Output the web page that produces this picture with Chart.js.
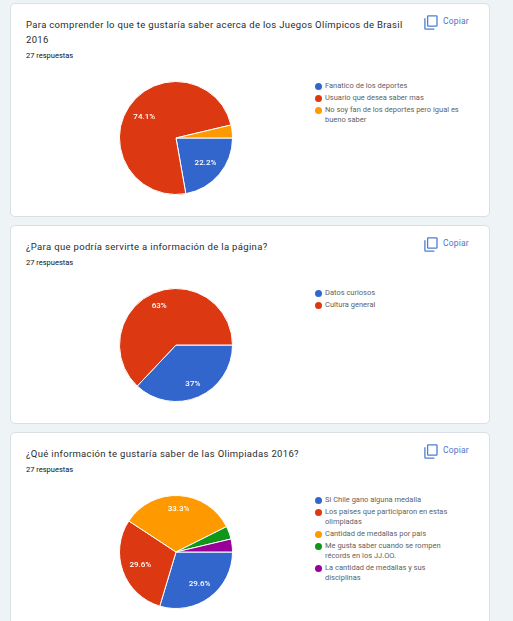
<!DOCTYPE html>
<html lang="es">
<head>
<meta charset="utf-8">
<title>Respuestas</title>
<script src="https://cdn.jsdelivr.net/npm/chart.js@4"></script>
<style>
    html, body { margin: 0; padding: 0; width: 513px; height: 621px; overflow: hidden; background: #eef4f6; font-family: Roboto, sans-serif; }
    .card { position: absolute; left: 10px; width: 478px; background: #fff; border: 1px solid #dadfe3; border-radius: 5px; }
    .title { position: absolute; left: 15px; top: 13px; width: 385px; font-size: 9.5px; line-height: 15px; letter-spacing: 0.33px; color: #2b2b2b; }
    .count { position: absolute; left: 15px; font-size: 7.5px; line-height: 10px; color: #111; }
    .copy { position: absolute; left: 432px; top: 12px; font-size: 8.5px; line-height: 10px; letter-spacing: 0.2px; color: #4f74c9; }
    .copy-icon { position: absolute; left: 413px; top: 11px; }
    .legend { position: absolute; left: 303px; width: 148px; font-size: 7.5px; line-height: 10px; color: #5f5f5f; }
    .legend div { position: relative; padding-left: 11px; margin-bottom: 2px; }
    .legend i { position: absolute; left: 1px; top: 1.5px; width: 7px; height: 7px; border-radius: 50%; }
    canvas { position: absolute; left: 118px; }
</style>
</head>
<body>
<script>
const COLORS = ['#3366cc', '#dc3912', '#ff9900', '#109618', '#990099'];

const titles = [
    'Para comprender lo que te gustaría saber acerca de los Juegos Olímpicos de Brasil 2016',
    '¿Para que podría servirte a información de la página?',
    '¿Qué información te gustaría saber de las Olimpiadas 2016?'
];
const countLabel = '27 respuestas';
const copyLabel = 'Copiar';

const labels1 = ['Fanatico de los deportes', 'Usuario que desea saber mas', 'No soy fan de los deportes pero igual es bueno saber'];
const values1 = [6, 20, 1];
const sliceText1 = ['22.2%', '74.1%', ''];

const labels2 = ['Datos curiosos', 'Cultura general'];
const values2 = [10, 17];
const sliceText2 = ['37%', '63%'];

const labels3 = ['Si Chile gano alguna medalla', 'Los países que participaron en estas olimpiadas', 'Cantidad de medallas por país', 'Me gusta saber cuando se rompen récords en los JJ.OO.', 'La cantidad de medallas y sus disciplinas'];
const values3 = [8, 8, 9, 1, 1];
const sliceText3 = ['29.6%', '29.6%', '33.3%', '', ''];

// 퍼센트 라벨: 글자 상자의 먼 모서리가 반지름의 87% 원에 닿을 때까지 바깥으로 민다
const sliceLabels = {
    id: 'sliceLabels',
    afterDatasetsDraw(chart, args, opts) {
        const ctx = chart.ctx;
        ctx.save();
        ctx.fillStyle = '#fff';
        ctx.font = '500 8px Roboto';
        ctx.textAlign = 'center';
        ctx.textBaseline = 'middle';
        chart.getDatasetMeta(0).data.forEach((arc, i) => {
            const mid = (arc.startAngle + arc.endAngle) / 2;
            const cos = Math.cos(mid), sin = Math.sin(mid);
            const halfW = ctx.measureText(opts.text[i]).width / 2;
            const limit = arc.outerRadius * 0.87;
            let r = 0;
            while (Math.hypot(Math.abs(cos) * r + halfW, Math.abs(sin) * r + 4) < limit) r += 0.5;
            ctx.fillText(opts.text[i], arc.x + cos * r, arc.y + sin * r);
        });
        ctx.restore();
    }
};

function addCard(top, height, title, countTop, labels, values, sliceText, pieTop) {
    const card = document.createElement('div');
    card.className = 'card';
    card.style.top = top + 'px';
    card.style.height = height + 'px';
    card.innerHTML = `
        <div class="title">${title}</div>
        <div class="count" style="top:${countTop}px">${countLabel}</div>
        <svg class="copy-icon" width="14" height="15" viewBox="0 0 14 15" fill="none" stroke="#4f7fd0" stroke-width="1.3">
            <rect x="3.6" y="0.8" width="9.4" height="10.4" rx="0.6"/>
            <path d="M0.9 3.2V13.4a0.8 0.8 0 0 0 .8 .8H10.4"/>
        </svg>
        <div class="copy">${copyLabel}</div>
        <div class="legend" style="top:${pieTop - top}px">
            ${labels.map((l, i) => `<div><i style="background:${COLORS[i]}"></i>${l}</div>`).join('')}
        </div>`;
    document.body.appendChild(card);

    const canvas = document.createElement('canvas');
    canvas.width = 116;
    canvas.height = 116;
    canvas.style.top = pieTop + 'px';
    document.body.appendChild(canvas);

    new Chart(canvas, {
        type: 'pie',
        data: {
            labels,
            datasets: [{ data: values, backgroundColor: COLORS, borderColor: '#fff', borderWidth: 1 }]
        },
        options: {
            responsive: false,
            animation: false,
            rotation: 90,
            layout: { padding: 1 },
            plugins: { legend: { display: false }, tooltip: { enabled: false }, sliceLabels: { text: sliceText } }
        },
        plugins: [sliceLabels]
    });
}

addCard(3, 212, titles[0], 47, labels1, values1, sliceText1, 80);
addCard(225, 197, titles[1], 32, labels2, values2, sliceText2, 287);
addCard(432, 200, titles[2], 32, labels3, values3, sliceText3, 494);
</script>
</body>
</html>
